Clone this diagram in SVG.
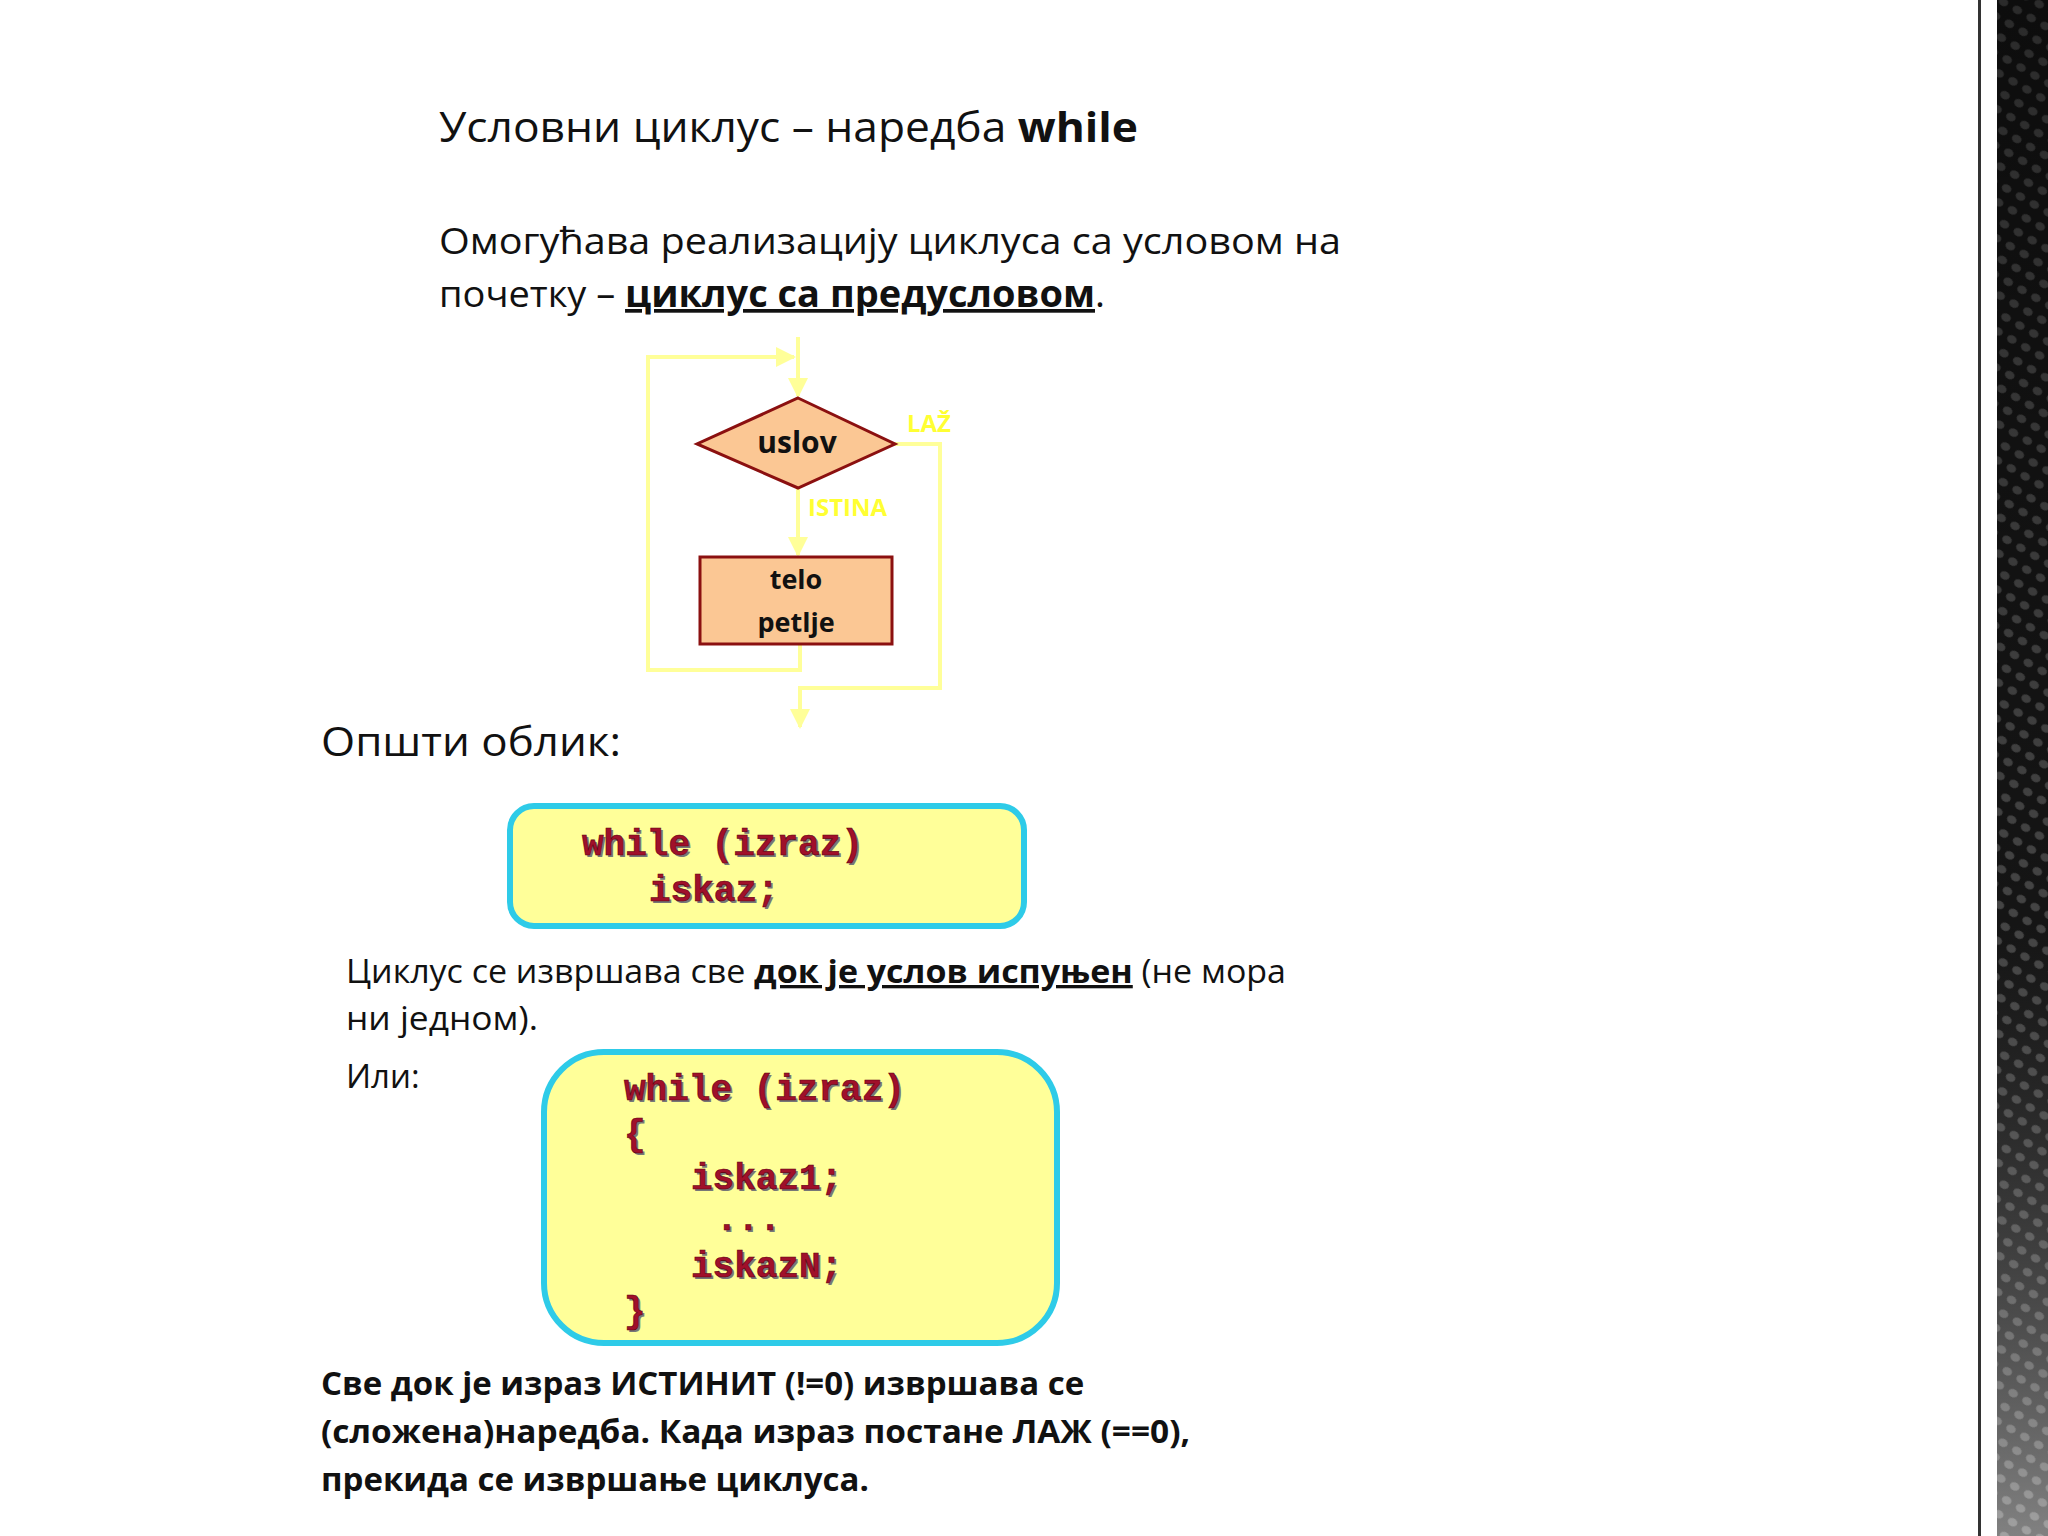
<svg xmlns="http://www.w3.org/2000/svg" width="2048" height="1536" viewBox="0 0 2048 1536">
<style>
.t{font-family:"Open Sans","Noto Sans",sans-serif;fill:#111}
.b{font-weight:bold}
.code{font-family:"Liberation Mono","Courier New",monospace;font-weight:bold;font-size:36px;fill:#a0102a;stroke:#5a0010;stroke-width:0.6}
.sh{fill:#777;stroke:none}
.ln{stroke:#ffff99;stroke-width:4;fill:none}
.lbl{font-family:"Open Sans",sans-serif;font-weight:bold;font-size:24px;fill:#ffff33}
.nt{font-family:"Open Sans",sans-serif;font-weight:bold;fill:#111}
</style>
<defs>
<marker id="ar" viewBox="0 0 10 10" refX="9" refY="5" markerWidth="5" markerHeight="5" orient="auto"><path d="M0,0L10,5L0,10z" fill="#ffff99"/></marker>
<pattern id="mesh" width="16" height="16" patternUnits="userSpaceOnUse" patternTransform="rotate(30)"><rect width="16" height="16" fill="#1a1a1a"/><ellipse cx="8" cy="8" rx="5" ry="4" fill="#555"/></pattern>
<linearGradient id="fade" x1="0" y1="0" x2="0" y2="1"><stop offset="0" stop-color="#000" stop-opacity="0.5"/><stop offset="0.6" stop-color="#000" stop-opacity="0.2"/><stop offset="1" stop-color="#fff" stop-opacity="0.45"/></linearGradient>
</defs>
<rect width="2048" height="1536" fill="#fff"/>
<g id="sidebar">
<rect x="1978" y="0" width="3" height="1536" fill="#333"/>
<rect x="1997" y="0" width="51" height="1536" fill="url(#mesh)"/>
<rect x="1997" y="0" width="51" height="1536" fill="url(#fade)"/>
</g>
<g id="title"><text class="t" x="439" y="142" font-size="42" textLength="699" lengthAdjust="spacingAndGlyphs">Условни циклус – наредба <tspan class="b">while</tspan></text></g>
<g id="intro">
<text class="t" x="439" y="254" font-size="37" textLength="902" lengthAdjust="spacingAndGlyphs">Омогућава реализацију циклуса са условом на</text>
<text class="t" x="439" y="307" font-size="37" textLength="666" lengthAdjust="spacingAndGlyphs">почетку – <tspan class="b" text-decoration="underline">циклус са предусловом</tspan>.</text>
</g>
<g id="connectors">
<path class="ln" d="M798,337 V396" marker-end="url(#ar)"/>
<path class="ln" d="M800,644 V670 H648 V357 H794" marker-end="url(#ar)"/>
<path class="ln" d="M798,488 V555" marker-end="url(#ar)"/>
<path class="ln" d="M895,444 H940 V688 H800 V727" marker-end="url(#ar)"/>
<text class="lbl" x="907" y="432">LAŽ</text>
<text class="lbl" x="808" y="516">ISTINA</text>
</g>
<g id="uslov"><polygon points="798,398 895,444 798,488 697,444" fill="#fbc794" stroke="#8b1010" stroke-width="3"/><text class="nt" x="797" y="453" font-size="30" text-anchor="middle">uslov</text></g>
<g id="telo"><rect x="700" y="557" width="192" height="87" fill="#fbc794" stroke="#8b1010" stroke-width="3"/><text class="nt" x="796" y="589" font-size="27" text-anchor="middle">telo</text><text class="nt" x="796" y="632" font-size="27" text-anchor="middle">petlje</text></g>
<g id="opsti"><text class="t" x="321" y="756" font-size="40" textLength="300" lengthAdjust="spacingAndGlyphs">Општи облик:</text></g>
<g id="box1">
<rect x="510" y="806" width="514" height="120" rx="24" fill="#ffff99" stroke="#2ecbe8" stroke-width="6"/>
<text class="code sh" x="584" y="857">while (izraz)</text><text class="code" x="582" y="855">while (izraz)</text>
<text class="code sh" x="651" y="903">iskaz;</text><text class="code" x="649" y="901">iskaz;</text>
</g>
<g id="desc">
<text class="t" x="346" y="983" font-size="33" textLength="940" lengthAdjust="spacingAndGlyphs">Циклус се извршава све <tspan class="b" text-decoration="underline">док је услов испуњен</tspan> (не мора</text>
<text class="t" x="346" y="1030" font-size="33" textLength="192" lengthAdjust="spacingAndGlyphs">ни једном).</text>
<text class="t" x="346" y="1088" font-size="33">Или:</text>
</g>
<g id="box2">
<rect x="544" y="1052" width="513" height="291" rx="60" fill="#ffff99" stroke="#2ecbe8" stroke-width="6"/>
<text class="code sh" x="626" y="1102">while (izraz)</text><text class="code" x="624" y="1100">while (izraz)</text>
<text class="code sh" x="626" y="1147">{</text><text class="code" x="624" y="1145">{</text>
<text class="code sh" x="693" y="1191">iskaz1;</text><text class="code" x="691" y="1189">iskaz1;</text>
<text class="code sh" x="718" y="1232">...</text><text class="code" x="716" y="1230">...</text>
<text class="code sh" x="693" y="1279">iskazN;</text><text class="code" x="691" y="1277">iskazN;</text>
<text class="code sh" x="626" y="1324">}</text><text class="code" x="624" y="1322">}</text>
</g>
<g id="summary">
<text class="t b" x="321" y="1395" font-size="33">Све док је израз ИСТИНИТ (!=0) извршава се</text>
<text class="t b" x="321" y="1443" font-size="33" textLength="869" lengthAdjust="spacingAndGlyphs">(сложена)наредба. Када израз постане ЛАЖ (==0),</text>
<text class="t b" x="321" y="1491" font-size="33">прекида се извршање циклуса.</text>
</g>
</svg>
